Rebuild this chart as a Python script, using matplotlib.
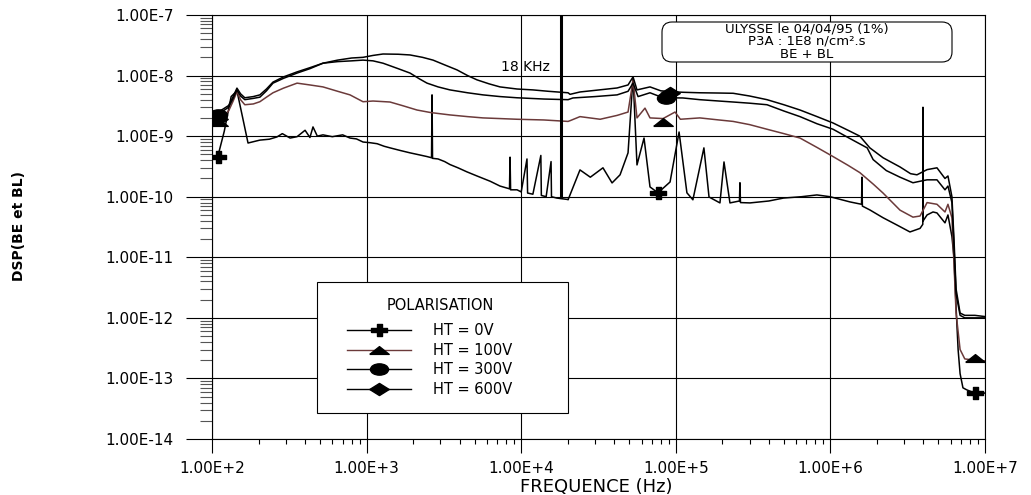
import numpy as np
import matplotlib
matplotlib.use('Agg')
import matplotlib.pyplot as plt
from matplotlib.ticker import LogLocator, FuncFormatter, NullFormatter
from matplotlib.lines import Line2D
from matplotlib.patches import Rectangle, FancyBboxPatch
from matplotlib.path import Path
from matplotlib.transforms import IdentityTransform

plt.rcParams['font.family'] = ['DejaVu Sans']

# HT = 0V
f0 = [100, 109, 120, 133, 145, 158, 171, 204, 235, 263,
      285, 320, 355, 400, 430, 450, 480, 522, 600, 700,
      781, 860, 948, 1050, 1170, 1300, 1420, 1650, 1909, 2200,
      2460, 2630, 2650, 2670, 2900, 3200, 3460, 3900, 4460, 5175,
      6300, 7290, 8400, 8470, 8540, 9400, 1.0e4, 1.09e4, 1.10e4, 1.19e4,
      1.34e4, 1.35e4, 1.45e4, 1.56e4, 1.57e4, 1.7e4, 2.0e4, 2.01e4, 2.4e4, 2.8e4,
      3.38e4, 3.87e4, 4.36e4, 4.91e4, 5.29e4, 5.61e4, 6.23e4, 6.81e4, 7.67e4, 9.18e4,
      1.05e5, 1.18e5, 1.29e5, 1.52e5, 1.64e5, 1.93e5, 2.05e5, 2.24e5, 2.58e5, 2.60e5,
      2.62e5, 3.02e5, 4.0e5, 4.97e5, 6.5e5, 8.18e5, 9.94e5, 1.34e6, 1.59e6, 1.60e6,
      1.61e6, 1.80e6, 2.19e6, 2.7e6, 3.27e6, 3.80e6, 3.96e6, 3.97e6, 3.98e6, 4.22e6,
      4.61e6, 4.89e6, 5.51e6, 5.76e6, 6.11e6, 6.3e6, 6.5e6, 6.7e6, 6.9e6, 7.2e6,
      7.6e6, 8.2e6, 8.6e6, 9.2e6, 1e7]
v0 = [4.5e-10, 4.6e-10, 1.2e-9, 4.5e-9, 5.6e-9, 2.0e-9, 7.7e-10, 8.6e-10, 8.9e-10, 9.7e-10,
      1.1e-9, 9.3e-10, 9.8e-10, 1.25e-9, 9.5e-10, 1.42e-9, 1.0e-9, 1.05e-9, 9.8e-10, 1.05e-9,
      9.3e-10, 9.0e-10, 8.0e-10, 7.8e-10, 7.5e-10, 6.8e-10, 6.4e-10, 5.8e-10, 5.3e-10, 4.9e-10,
      4.6e-10, 4.4e-10, 4.8e-9, 4.3e-10, 4.2e-10, 3.8e-10, 3.4e-10, 3.0e-10, 2.57e-10, 2.2e-10,
      1.8e-10, 1.5e-10, 1.35e-10, 4.5e-10, 1.3e-10, 1.3e-10, 1.2e-10, 4.2e-10, 1.15e-10, 1.1e-10,
      4.8e-10, 1.05e-10, 1.0e-10, 3.8e-10, 1.0e-10, 9.5e-11, 9.0e-11, 8.9e-11, 2.77e-10, 2.1e-10,
      3.0e-10, 1.69e-10, 2.3e-10, 5.3e-10, 9.5e-9, 3.35e-10, 9.3e-10, 1.45e-10, 1.16e-10, 1.75e-10,
      1.17e-9, 1.16e-10, 8.9e-11, 6.4e-10, 9.9e-11, 7.9e-11, 3.75e-10, 7.9e-11, 8.5e-11, 1.7e-10,
      8.0e-11, 7.9e-11, 8.5e-11, 9.5e-11, 1.0e-10, 1.07e-10, 1.0e-10, 8.2e-11, 7.5e-11, 2.1e-10,
      7.0e-11, 6.05e-11, 4.5e-11, 3.4e-11, 2.62e-11, 3.0e-11, 3.5e-11, 3.0e-9, 4.0e-11, 5.0e-11,
      5.6e-11, 5.4e-11, 3.7e-11, 5.0e-11, 2.2e-11, 1.0e-11, 1.5e-12, 3.0e-13, 1.2e-13, 7.0e-14,
      6.5e-14, 6.0e-14, 5.8e-14, 6.0e-14, 5.7e-14]

# HT = 100V
f1 = [100, 109, 118, 128, 137, 145, 153, 163, 185, 204,
      225, 248, 290, 355, 430, 522, 650, 781, 948, 1100,
      1417, 1700, 2118, 2600, 3460, 4500, 5660, 7300, 9400, 1.4e4,
      2.01e4, 2.07e4, 2.4e4, 3.24e4, 4.17e4, 4.91e4, 5.29e4, 5.61e4, 6.32e4, 6.81e4,
      8.27e4, 9.89e4, 1.07e5, 1.43e5, 1.9e5, 2.35e5, 3.0e5, 3.89e5, 5.0e5, 6.36e5,
      8.2e5, 1.04e6, 1.3e6, 1.55e6, 1.9e6, 2.19e6, 2.82e6, 3.42e6, 3.80e6, 4.22e6,
      4.89e6, 5.51e6, 5.76e6, 6.11e6, 6.3e6, 6.5e6, 6.9e6, 7.4e6, 8.6e6, 1e7]
v1 = [1.85e-9, 1.9e-9, 2.1e-9, 2.6e-9, 3.8e-9, 5.4e-9, 4.0e-9, 3.3e-9, 3.4e-9, 3.7e-9,
      4.4e-9, 5.2e-9, 6.2e-9, 7.5e-9, 7.0e-9, 6.5e-9, 5.5e-9, 4.8e-9, 3.7e-9, 3.8e-9,
      3.66e-9, 3.2e-9, 2.7e-9, 2.45e-9, 2.24e-9, 2.1e-9, 2.0e-9, 1.95e-9, 1.9e-9, 1.85e-9,
      1.75e-9, 1.8e-9, 2.1e-9, 1.9e-9, 2.2e-9, 2.5e-9, 8.4e-9, 2.0e-9, 2.9e-9, 2.0e-9,
      1.95e-9, 2.5e-9, 1.9e-9, 2.0e-9, 1.85e-9, 1.75e-9, 1.55e-9, 1.3e-9, 1.1e-9, 9.3e-10,
      6.5e-10, 4.6e-10, 3.3e-10, 2.5e-10, 1.6e-10, 1.15e-10, 6.0e-11, 4.6e-11, 4.8e-11, 8.0e-11,
      7.5e-11, 5.6e-11, 7.5e-11, 4.5e-11, 8e-12, 1.2e-12, 3e-13, 2.1e-13, 2.0e-13, 1.95e-13]

# HT = 300V
f3 = [100, 109, 118, 128, 137, 145, 153, 163, 185, 204,
      225, 248, 290, 355, 430, 522, 650, 800, 948, 1100,
      1277, 1600, 1909, 2200, 2460, 2900, 3460, 4500, 5660, 7300,
      9400, 1.4e4, 2.01e4, 2.16e4, 3.0e4, 4.17e4, 4.91e4, 5.29e4, 5.7e4, 6.81e4,
      8.27e4, 1.11e5, 1.43e5, 1.9e5, 2.35e5, 3.0e5, 3.89e5, 5.0e5, 6.36e5, 8.2e5,
      1.04e6, 1.3e6, 1.73e6, 1.89e6, 2.3e6, 2.82e6, 3.42e6, 3.8e6, 4.22e6, 4.89e6,
      5.51e6, 5.76e6, 6.11e6, 6.3e6, 6.5e6, 6.9e6, 7.4e6, 8.6e6, 1e7]
v3 = [2.2e-9, 2.25e-9, 2.6e-9, 3.0e-9, 4.2e-9, 5.8e-9, 4.6e-9, 4.0e-9, 4.2e-9, 4.4e-9,
      5.6e-9, 7.5e-9, 9.0e-9, 1.1e-8, 1.3e-8, 1.6e-8, 1.7e-8, 1.75e-8, 1.8e-8, 1.75e-8,
      1.6e-8, 1.3e-8, 1.1e-8, 8.8e-9, 7.5e-9, 6.5e-9, 5.8e-9, 5.2e-9, 4.8e-9, 4.5e-9,
      4.3e-9, 4.1e-9, 4.0e-9, 4.27e-9, 4.5e-9, 4.8e-9, 5.5e-9, 7.5e-9, 4.5e-9, 5.2e-9,
      4.3e-9, 4.27e-9, 4.0e-9, 3.8e-9, 3.66e-9, 3.5e-9, 3.3e-9, 2.6e-9, 2.1e-9, 1.6e-9,
      1.3e-9, 9.5e-10, 6.4e-10, 4.1e-10, 2.7e-10, 2.1e-10, 1.7e-10, 1.8e-10, 1.9e-10, 1.9e-10,
      1.3e-10, 1.5e-10, 8e-11, 1.5e-11, 2.5e-12, 1.1e-12, 1.0e-12, 1.0e-12, 1.0e-12]

# HT = 600V
f6 = [100, 109, 118, 128, 137, 145, 153, 163, 185, 204,
      225, 248, 290, 355, 430, 522, 650, 800, 948, 1100,
      1277, 1600, 1909, 2300, 2690, 3200, 3845, 4500, 5175, 6200,
      7290, 9400, 1.19e4, 1.5e4, 2.01e4, 2.07e4, 2.4e4, 3.2e4, 4.17e4, 4.91e4,
      5.29e4, 5.61e4, 6.81e4, 8.0e4, 9.5e4, 1.11e5, 1.43e5, 1.9e5, 2.35e5, 3.0e5,
      3.89e5, 5.0e5, 6.36e5, 8.2e5, 1.04e6, 1.3e6, 1.55e6, 1.80e6, 2.19e6, 2.82e6,
      3.3e6, 3.63e6, 4.22e6, 4.89e6, 5.51e6, 5.76e6, 6.11e6, 6.3e6, 6.5e6, 6.9e6,
      7.4e6, 8.6e6, 1e7]
v6 = [2.4e-9, 2.5e-9, 2.8e-9, 3.2e-9, 4.5e-9, 6.2e-9, 5.0e-9, 4.3e-9, 4.5e-9, 4.8e-9,
      6.0e-9, 7.8e-9, 9.5e-9, 1.15e-8, 1.35e-8, 1.6e-8, 1.8e-8, 1.95e-8, 2.0e-8, 2.15e-8,
      2.27e-8, 2.25e-8, 2.19e-8, 2.0e-8, 1.8e-8, 1.5e-8, 1.24e-8, 1.0e-8, 8.5e-9, 7.3e-9,
      6.5e-9, 6.0e-9, 5.8e-9, 5.5e-9, 5.2e-9, 4.9e-9, 5.36e-9, 5.8e-9, 6.24e-9, 7.0e-9,
      9.5e-9, 5.8e-9, 6.5e-9, 5.6e-9, 5.4e-9, 5.3e-9, 5.2e-9, 5.15e-9, 5.1e-9, 4.6e-9,
      4.0e-9, 3.3e-9, 2.7e-9, 2.1e-9, 1.65e-9, 1.25e-9, 1.0e-9, 6.4e-10, 4.4e-10, 3.1e-10,
      2.4e-10, 2.3e-10, 2.8e-10, 3.0e-10, 2.0e-10, 2.2e-10, 1.0e-10, 2e-11, 3e-12, 1.2e-12,
      1.1e-12, 1.1e-12, 1.05e-12]

# symbols placed on the curves
mk0_f, mk0_v = [109, 7.67e4, 8.6e6], [4.6e-10, 1.16e-10, 5.8e-14]
mk1_f, mk1_v = [109, 8.27e4, 8.6e6], [1.7e-9, 1.7e-9, 2.2e-13]
mk3_f, mk3_v = [109, 8.7e4], [2.2e-9, 4.2e-9]
mk6_f, mk6_v = [109, 9.2e4], [1.95e-9, 5.2e-9]

# 18 kHz line
khz_f = [1.8e4, 1.8e4]
khz_v = [1.0e-10, 9.2e-8]

labels = ['HT = 0V', 'HT = 100V', 'HT = 300V', 'HT = 600V']
colors = ['black', '#6b3a3a', 'black', 'black']

# wide symbols
plus = Path([(-1.5, -0.3), (-0.45, -0.3), (-0.45, -1), (0.45, -1), (0.45, -0.3), (1.5, -0.3),
             (1.5, 0.3), (0.45, 0.3), (0.45, 1), (-0.45, 1), (-0.45, 0.3), (-1.5, 0.3), (-1.5, -0.3)])
tri = Path([(-1.25, -0.5), (1.25, -0.5), (0, 0.5), (-1.25, -0.5)])
circ = Path(Path.unit_circle().vertices * [1.6, 1.0], Path.unit_circle().codes)
diam = Path([(-1.6, 0), (0, -1), (1.6, 0), (0, 1), (-1.6, 0)])
markers = [plus, tri, circ, diam]
msizes = [12, 14, 13, 14]

fig = plt.figure(figsize=(10.31, 4.95), dpi=100)
ax = fig.add_axes([212/1031, 1-439/495, 773/1031, 424/495])
ax.set_xscale('log')
ax.set_yscale('log')

series = [(f0, v0), (f1, v1), (f3, v3), (f6, v6)]
mks = [(mk0_f, mk0_v), (mk1_f, mk1_v), (mk3_f, mk3_v), (mk6_f, mk6_v)]
for (f, v), c in zip(series, colors):
    ax.plot(f, v, color=c, lw=1.1, zorder=3)
ax.plot(khz_f, khz_v, color='black', lw=2.2, zorder=3)
for (f, v), m, s in zip(mks, markers, msizes):
    ax.plot(f, v, ls='none', marker=m, ms=s, color='black', zorder=4)

ax.set_xlim(1e2, 1e7)
ax.set_ylim(1e-14, 1e-7)

fmt = FuncFormatter(lambda v, p: '1.00E%+d' % int(round(np.log10(v))))
ax.xaxis.set_major_formatter(fmt)
ax.yaxis.set_major_formatter(fmt)
ax.xaxis.set_major_locator(LogLocator(base=10, numticks=10))
ax.yaxis.set_major_locator(LogLocator(base=10, numticks=10))
ax.xaxis.set_minor_locator(LogLocator(base=10, subs=np.arange(2, 10), numticks=10))
ax.yaxis.set_minor_locator(LogLocator(base=10, subs=np.arange(2, 10), numticks=10))
ax.xaxis.set_minor_formatter(NullFormatter())
ax.yaxis.set_minor_formatter(NullFormatter())

ax.tick_params(axis='y', which='major', length=18.7, width=0.8, pad=9, labelsize=11)
ax.tick_params(axis='y', which='minor', length=8.6, width=0.8, color='#555555')
ax.tick_params(axis='x', which='major', length=10, width=0.8, pad=6, labelsize=11)
ax.tick_params(axis='x', which='minor', length=3.6, width=0.8)
ax.grid(which='major', color='black', lw=0.8)
for sp in ax.spines.values():
    sp.set_linewidth(0.8)

fig.text(596/1031, 1-487/495, 'FREQUENCE (Hz)', fontsize=13, ha='center', va='center')
fig.text(19/1031, 1-226/495, 'DSP(BE et BL)', fontsize=10, fontweight='bold',
         rotation=90, ha='center', va='center')
ax.text(1.53e4, 1.39e-8, '18 KHz', fontsize=10, ha='right', va='center')

# comment box
fig.add_artist(FancyBboxPatch((662, 495-62), 290, 40, boxstyle='round,pad=0,rounding_size=10',
                              transform=IdentityTransform(), fc='white', ec='black', lw=0.8))
for txt, y in zip(['ULYSSE le 04/04/95 (1%)', 'P3A : 1E8 n/cm².s', 'BE + BL'], [29, 41.5, 54]):
    fig.text(807/1031, 1-y/495, txt, fontsize=9.5, ha='center', va='center')

# legend
fig.add_artist(Rectangle((317, 495-413), 251, 131, transform=IdentityTransform(),
                         fc='white', ec='black', lw=0.8, zorder=5))
fig.text(440/1031, 1-305/495, 'POLARISATION', fontsize=10.5, ha='center', va='center', zorder=6)
handles = [Line2D([], [], color=c, lw=1.0, marker=m, ms=s, mfc='black', mec='black')
           for c, m, s in zip(colors, markers, msizes)]
leg = fig.legend(handles, labels, loc='upper left',
                 bbox_to_anchor=(347/1031, 1-323/495), frameon=False, fontsize=10.5,
                 handlelength=4.4, handletextpad=1.5,
                 labelspacing=0.32, borderpad=0, borderaxespad=0)
leg.set_zorder(6)

fig.savefig('out.png', dpi=100)
